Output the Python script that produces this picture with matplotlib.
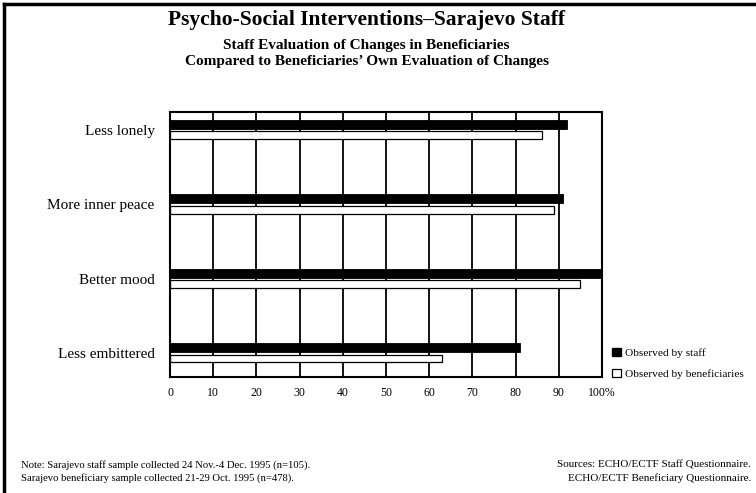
import matplotlib
matplotlib.use("Agg")
import matplotlib.pyplot as plt
from matplotlib.lines import Line2D
from matplotlib.patches import Patch

categories = ["Less lonely", "More inner peace", "Better mood", "Less embittered"]
observed_by_staff = [92, 91, 100, 81]
observed_by_beneficiaries = [86, 89, 95, 63]
tick_values = [0, 10, 20, 30, 40, 50, 60, 70, 80, 90, 100]
tick_labels = ["0", "10", "20", "30", "40", "50", "60", "70", "80", "90", "100%"]

plt.rcParams["font.family"] = ["Liberation Serif", "DejaVu Serif"]

fig = plt.figure(figsize=(7.56, 4.93), dpi=100)
ax = fig.add_axes([170 / 756, 1 - 377 / 493, 432 / 756, 265 / 493])

pos = list(range(len(categories)))
staff_pos = [p - 0.075 for p in pos]
ben_pos = [p + 0.072 for p in pos]

# vertical grid lines behind the bars
for v in tick_values[1:-1]:
    ax.axvline(v, color="black", lw=1.3, zorder=1)

ax.barh(staff_pos, observed_by_staff, height=0.125, color="black",
        edgecolor="black", lw=0.6, zorder=3, label="Observed by staff")
ax.barh(ben_pos, observed_by_beneficiaries, height=0.105, color="white",
        edgecolor="black", lw=0.9, zorder=2, label="Observed by beneficiaries")

ax.set_xlim(0, 100)
ax.set_ylim(3.32, -0.24)
ax.set_yticks(pos)
ax.set_yticklabels(categories, fontsize=11)
ax.set_xticks(tick_values)
ax.set_xticklabels(tick_labels, fontsize=8.5)
ax.tick_params(axis="both", length=0)
ax.tick_params(axis="y", pad=11)
ax.tick_params(axis="x", pad=7)
for s in ax.spines.values():
    s.set_linewidth(1.5)

handles = [Patch(facecolor="black", edgecolor="black", label="Observed by staff"),
           Patch(facecolor="white", edgecolor="black", lw=0.9, label="Observed by beneficiaries")]
fig.legend(handles=handles, loc="upper left", bbox_to_anchor=(604 / 756, 1 - 340 / 493),
           frameon=False, fontsize=8.2, handlelength=0.75, handleheight=0.75,
           handletextpad=0.4, labelspacing=0.95, borderpad=0.2)

fig.text(0.485, 1 - 20 / 493, "Psycho-Social Interventions\u2013Sarajevo Staff",
         ha="center", va="center", fontsize=15.5, fontweight="bold")
fig.text(0.485, 1 - 46 / 493, "Staff Evaluation of Changes in Beneficiaries",
         ha="center", va="center", fontsize=11, fontweight="bold")
fig.text(0.485, 1 - 61 / 493, "Compared to Beneficiaries\u2019 Own Evaluation of Changes",
         ha="center", va="center", fontsize=11, fontweight="bold")

fig.text(21 / 756, 1 - 465 / 493,
         "Note: Sarajevo staff sample collected 24 Nov.-4 Dec. 1995 (n=105).",
         ha="left", va="center", fontsize=7.7)
fig.text(21 / 756, 1 - 478 / 493,
         "Sarajevo beneficiary sample collected 21-29 Oct. 1995 (n=478).",
         ha="left", va="center", fontsize=7.7)
fig.text(751 / 756, 1 - 465 / 493, "Sources: ECHO/ECTF Staff Questionnaire.",
         ha="right", va="center", fontsize=8)
fig.text(751 / 756, 1 - 478 / 493, "ECHO/ECTF Beneficiary Questionnaire.",
         ha="right", va="center", fontsize=8)

# page frame: top rule and left rule
fig.add_artist(Line2D([4 / 756, 1], [1 - 4 / 493, 1 - 4 / 493], color="black", lw=2.5,
                      transform=fig.transFigure))
fig.add_artist(Line2D([4 / 756, 4 / 756], [0, 1 - 4 / 493], color="black", lw=2.5,
                      transform=fig.transFigure))

fig.savefig("out.png", dpi=100)
